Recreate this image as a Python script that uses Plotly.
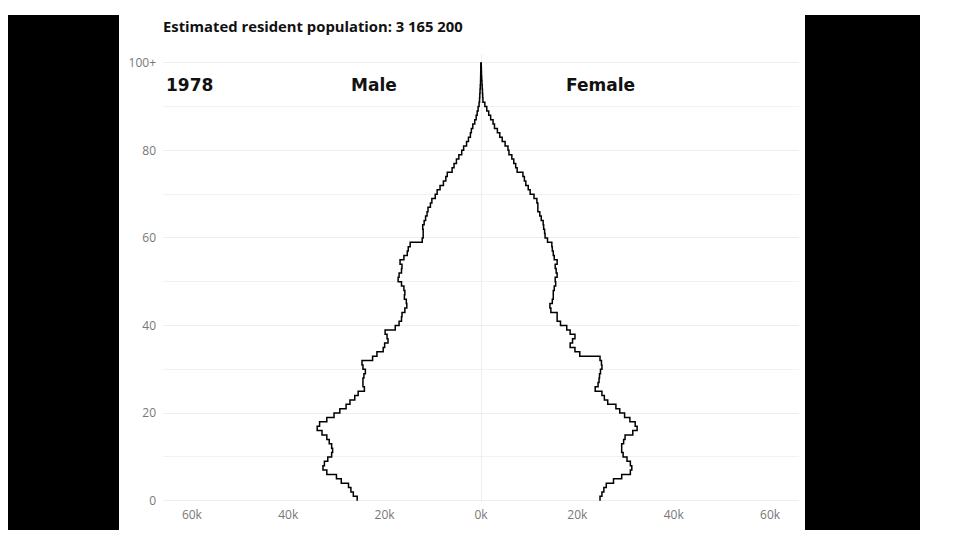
import plotly.graph_objects as go

# Population by single year of age, 1978 (persons)
ages = list(range(0, 101))

male = [25700, 26500, 27000, 27500, 29000, 30000, 32000, 32800, 32500, 31800,
        31000, 30800, 31000, 31500, 32000, 33000, 34000, 33500, 32000, 30500,
        29300, 28000, 27200, 26200, 25500, 24200, 24500, 24500, 24300, 24000,
        24500, 24700, 22500, 21600, 20300, 20000, 19300, 19500, 19900, 17800,
        17000, 16500, 16400, 15800, 15400, 15500, 15900, 15800, 16000, 16500,
        17200, 17000, 16500, 16400, 16800, 16000, 15300, 15100, 14700, 12200,
        12000, 12000, 12100, 11800, 11500, 11200, 11000, 10500, 10200, 9500,
        9100, 8500, 7800, 7300, 7000, 6000, 5600, 5100, 4600, 4000,
        3600, 3000, 2600, 2200, 2000, 1700, 1300, 1000, 800, 600,
        400, 300, 250, 200, 150, 100, 80, 60, 40, 30,
        50]

female = [24700, 25100, 25500, 26000, 27500, 29200, 31000, 31300, 31000, 30300,
          29500, 29200, 29200, 29600, 29900, 31500, 32400, 32000, 30900, 29800,
          28800, 28000, 26300, 25600, 25100, 23700, 24300, 24500, 24600, 24800,
          25100, 25000, 24700, 20500, 19500, 18500, 19000, 19500, 18500, 17800,
          16500, 15800, 15800, 14500, 14300, 14800, 15000, 15000, 15200, 15500,
          15400, 15800, 15600, 15400, 15800, 15200, 15000, 14800, 14700, 13800,
          13300, 13200, 13000, 12900, 12500, 12200, 11800, 11800, 11600, 11000,
          10200, 9800, 9300, 9000, 8700, 7500, 7200, 6800, 6400, 5800,
          5600, 5000, 4400, 3900, 3400, 2800, 2500, 2000, 1600, 1200,
          800, 400, 350, 300, 250, 200, 150, 100, 80, 50,
          80]

year = "1978"
total = "3 165 200"

x_ticks = [-60000, -40000, -20000, 0, 20000, 40000, 60000]
x_labels = ["60k", "40k", "20k", "0k", "20k", "40k", "60k"]
y_ticks = [0, 20, 40, 60, 80, 100]
y_labels = ["0", "20", "40", "60", "80", "100+"]

# figure size / plot box (page has an 8px body margin)
W, H = 952, 529
L, R, T, B = 155, 161, 46, 35
PW, PH = W - L - R, H - T - B

fig = go.Figure()

fig.add_trace(go.Scatter(x=[-v for v in male], y=ages, mode="lines",
                         line=dict(color="black", width=1.5, shape="vh"),
                         name="Male", hoverinfo="skip"))
fig.add_trace(go.Scatter(x=female, y=ages, mode="lines",
                         line=dict(color="black", width=1.5, shape="vh"),
                         name="Female", hoverinfo="skip"))

label_font = dict(family="DejaVu Sans", size=17, color="#111111", weight="bold")
fig.add_annotation(x=-65700, y=95, text=year, showarrow=False, xanchor="left",
                   font=label_font)
fig.add_annotation(x=-22200, y=95, text="Male", showarrow=False, font=label_font)
fig.add_annotation(x=24900, y=95, text="Female", showarrow=False, font=label_font)

# black bars at the sides of the frame (pixel positions in figure)
for x0, x1 in [(-5, 111), (797, 912)]:
    fig.add_shape(type="rect", xref="paper", yref="paper",
                  x0=(x0 - L) / PW, x1=(x1 - L) / PW,
                  y0=(H - B - 522) / PH, y1=(H - B - 7) / PH,
                  fillcolor="black", line_width=0, layer="above")

fig.update_layout(
    width=W, height=H,
    margin=dict(l=L, r=R, t=T, b=B),
    paper_bgcolor="white", plot_bgcolor="white",
    showlegend=False,
    title=dict(text="Estimated resident population: " + total,
               x=L / W, xanchor="left", y=1 - 19 / H, yanchor="middle",
               font=dict(family="Open Sans", size=14.8, color="#111111", weight="bold")),
    font=dict(family="Open Sans", size=12, color="#777777"),
)
fig.update_xaxes(range=[-66000, 66000], tickvals=x_ticks, ticktext=x_labels,
                 showgrid=False, zeroline=True, zerolinecolor="#eeeeee",
                 zerolinewidth=1, showline=False, ticks="", fixedrange=True,
                 ticklabelstandoff=4)
fig.update_yaxes(range=[-0.3, 102], tickvals=y_ticks, ticktext=y_labels,
                 showgrid=True, gridcolor="#eeeeee", zeroline=False,
                 minor=dict(dtick=10, showgrid=True, gridcolor="#f2f2f2"),
                 ticks="", fixedrange=True, ticklabelstandoff=6)

fig.write_html("out.html")
